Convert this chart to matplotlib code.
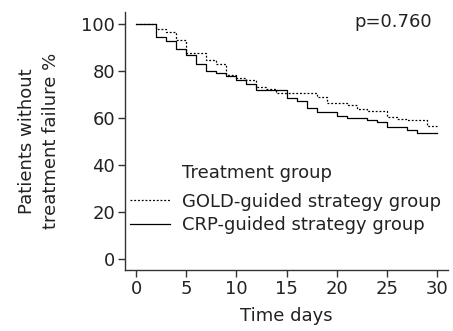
import numpy as np
import matplotlib.pyplot as plt

plt.rcParams['font.family'] = ['DejaVu Sans']

# Kaplan-Meier style curves (day of step, survival % after step)
crp_days = [0, 2, 3, 4, 5, 6, 7, 8, 9, 10, 11, 12, 15, 16, 17, 18, 20, 21, 23, 24, 25, 27, 28, 30]
crp_vals = [100, 94.6, 92.8, 89.2, 86.8, 82.8, 80.0, 79.0, 78.0, 76.0, 74.3, 71.8, 68.4, 67.2, 64.4, 62.4,
            61.0, 60.1, 59.1, 58.2, 56.0, 54.9, 53.5, 53.5]

gold_days = [0, 2, 3, 4, 5, 7, 8, 9, 10, 11, 12, 13, 14, 18, 19, 21, 22, 23, 25, 26, 27, 29, 30]
gold_vals = [100, 97.7, 96.5, 93.2, 87.8, 84.7, 82.8, 78.2, 77.0, 76.0, 73.3, 72.2, 70.8, 69.0, 66.2,
             65.5, 63.8, 63.1, 60.6, 59.6, 59.0, 56.7, 56.7]

xticks = [0, 5, 10, 15, 20, 25, 30]
yticks = [0, 20, 40, 60, 80, 100]

txt = '#222222'
fs = 13

fig = plt.figure(figsize=(4.53, 3.31), dpi=100)
ax = fig.add_axes([0.276, 0.184, 0.713, 0.78])

ax.step(gold_days, gold_vals, where='post', color='black', lw=0.9, ls=(0, (1.5, 1.5)),
        label='GOLD-guided strategy group')
ax.step(crp_days, crp_vals, where='post', color='black', lw=0.9,
        label='CRP-guided strategy group')

ax.set_xlim(-1.1, 31.1)
ax.set_ylim(-4.7, 105.1)
ax.set_xticks(xticks)
ax.set_yticks(yticks)
ax.tick_params(labelsize=fs, length=5, width=1, color='#333333', labelcolor=txt, pad=2)
for s in ['top', 'right']:
    ax.spines[s].set_visible(False)
for s in ['left', 'bottom']:
    ax.spines[s].set_linewidth(1)
    ax.spines[s].set_color('#333333')

ax.set_xlabel('Time days', fontsize=fs, color=txt, va='center')
ax.xaxis.set_label_coords(0.5, -0.178)
ax.set_ylabel('Patients without\ntreatment failure %', fontsize=fs, color=txt,
              va='center', linespacing=1.45)
ax.yaxis.set_label_coords(-0.266, 0.5)

ax.text(0.95, 0.961, 'p=0.760', transform=ax.transAxes, ha='right', va='center',
        fontsize=fs, color=txt)

ax.text(0.176, 0.376, 'Treatment group', transform=ax.transAxes, ha='left', va='center',
        fontsize=fs, color=txt)
leg = ax.legend(loc='upper left', bbox_to_anchor=(0.0155, 0.30),
                frameon=False, fontsize=fs, handlelength=2.2, borderpad=0,
                handletextpad=0.67, labelspacing=0.3, borderaxespad=0)
for t in leg.get_texts():
    t.set_color(txt)

fig.savefig('out.png', dpi=100)
